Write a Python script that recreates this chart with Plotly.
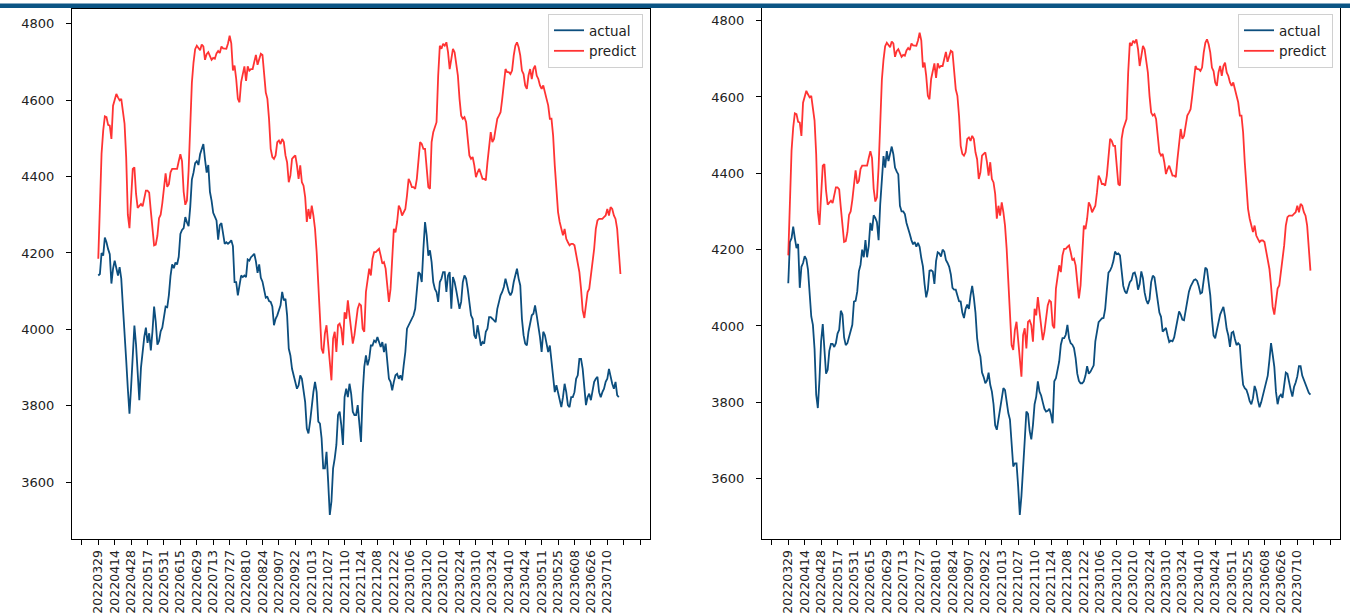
import plotly.graph_objects as go

# ---------------- data ----------------
dates = ["20220329", "20220414", "20220428", "20220517", "20220531", "20220615",
         "20220629", "20220713", "20220727", "20220810", "20220824", "20220907",
         "20220922", "20221013", "20221027", "20221110", "20221124", "20221208",
         "20221222", "20230106", "20230120", "20230210", "20230224", "20230310",
         "20230324", "20230410", "20230424", "20230511", "20230525", "20230608",
         "20230626", "20230710"]

left_actual = [
    4141, 4145, 4200, 4193, 4240, 4228, 4210, 4197, 4120, 4159,
    4180, 4163, 4141, 4163, 4133, 4060, 3975, 3920, 3845, 3780,
    3850, 3930, 4010, 3960, 3880, 3815, 3900, 3950, 3980, 4005,
    3965, 3990, 3945, 3995, 4060, 4020, 3960, 3970, 3995, 4005,
    4030, 4060, 4058, 4090, 4140, 4170, 4160, 4175, 4170, 4190,
    4250, 4260, 4265, 4294, 4280, 4270, 4320, 4392, 4410, 4435,
    4440, 4430, 4458, 4470, 4485, 4445, 4410, 4430, 4360, 4337,
    4305, 4295, 4285, 4235, 4273, 4278, 4244, 4224, 4228, 4224,
    4228, 4233, 4218, 4124, 4124, 4089, 4115, 4141, 4137, 4141,
    4137, 4183, 4180, 4189, 4193, 4198, 4178, 4148, 4170, 4135,
    4125, 4100, 4083, 4085, 4074, 4072, 4060, 4011, 4028, 4037,
    4054, 4063, 4098, 4076, 4080, 4037, 3950, 3932, 3897, 3880,
    3863, 3845, 3854, 3880, 3871, 3845, 3810, 3741, 3728, 3759,
    3802, 3836, 3863, 3836, 3759, 3754, 3715, 3637, 3637, 3680,
    3602, 3515, 3550, 3637, 3663, 3698, 3776, 3785, 3750, 3698,
    3823, 3845, 3823, 3858, 3832, 3785, 3776, 3776, 3802, 3759,
    3706, 3832, 3902, 3932, 3906, 3923, 3958, 3958, 3971, 3967,
    3980, 3967, 3954, 3967, 3941, 3963, 3915, 3871, 3863, 3841,
    3863, 3880, 3884, 3871, 3880, 3867, 3906, 3941, 4002, 4011,
    4019, 4028, 4037, 4054, 4106, 4150, 4145, 4124, 4211, 4281,
    4246, 4193, 4207, 4176, 4124, 4106, 4098, 4072, 4124, 4133,
    4150, 4150, 4098, 4141, 4150, 4054, 4137, 4124, 4102, 4072,
    4054, 4072, 4124, 4141, 4133, 4106, 4063, 4037, 4028, 3985,
    3976, 4011, 3985, 3958, 3967, 3963, 3994, 4002, 4032, 4032,
    4028, 4024, 4019, 4054, 4072, 4089, 4098, 4111, 4133, 4115,
    4098, 4089, 4098, 4124, 4141, 4159, 4133, 4115, 4028, 3985,
    3963, 3958, 3994, 4019, 4037, 4041, 4063, 4037, 4011, 3980,
    3941, 3994, 3985, 3958, 3941, 3958, 3915, 3863, 3836, 3854,
    3832, 3815, 3797, 3823, 3858, 3836, 3802, 3797, 3823, 3823,
    3836, 3871, 3880, 3923, 3923, 3897, 3836, 3802, 3823, 3832,
    3815, 3845, 3863, 3871, 3876, 3836, 3823, 3836, 3845, 3863,
    3871, 3897, 3876, 3858, 3845, 3863, 3828, 3823]

predict = [
    4185, 4300, 4460, 4520, 4557, 4555, 4535, 4533, 4498, 4585,
    4600, 4616, 4607, 4599, 4603, 4570, 4538, 4450, 4300, 4265,
    4360, 4420, 4424, 4355, 4318, 4324, 4328, 4322, 4340, 4363,
    4363, 4358, 4310, 4265, 4220, 4222, 4245, 4291, 4300, 4330,
    4370, 4408, 4373, 4380, 4411, 4420, 4420, 4420, 4420, 4440,
    4458, 4440, 4360, 4326, 4337, 4415, 4535, 4645, 4698, 4733,
    4742, 4735, 4730, 4745, 4740, 4705, 4720, 4725, 4712, 4705,
    4710, 4708, 4722, 4728, 4723, 4740, 4735, 4734, 4734, 4748,
    4768, 4748, 4677, 4690, 4655, 4603, 4594, 4647, 4664, 4688,
    4650, 4688, 4677, 4681, 4681, 4700, 4718, 4692, 4706, 4721,
    4718, 4675, 4620, 4603, 4550, 4472, 4451, 4446, 4455, 4490,
    4494, 4485, 4498, 4490, 4455, 4437, 4385, 4402, 4446, 4451,
    4455, 4429, 4394, 4429, 4385, 4376, 4346, 4281, 4315, 4289,
    4324, 4298, 4263, 4202, 4124, 4037, 3950, 3937, 3989, 4011,
    3967, 3915, 3867, 3976, 3994, 3941, 4011, 4015, 4002, 3959,
    4045, 4028, 4076, 4037, 4002, 3963, 3985, 4028, 4054, 4067,
    4063, 4002, 3994, 4098, 4124, 4159, 4141, 4185, 4202, 4202,
    4207, 4211, 4193, 4172, 4176, 4159, 4115, 4072, 4106, 4176,
    4263, 4254, 4281, 4324, 4315, 4298, 4307, 4315, 4350, 4394,
    4385, 4372, 4372, 4368, 4394, 4437, 4490, 4485, 4472, 4472,
    4420, 4372, 4368, 4490, 4516, 4533, 4542, 4664, 4742, 4734,
    4747, 4742, 4751, 4725, 4681, 4707, 4734, 4725, 4699, 4664,
    4603, 4559, 4551, 4555, 4542, 4498, 4455, 4446, 4451, 4429,
    4398, 4411, 4420, 4407, 4394, 4394, 4390, 4437, 4472, 4516,
    4490, 4498, 4525, 4551, 4559, 4568, 4603, 4638, 4681, 4673,
    4673, 4668, 4677, 4716, 4742, 4751, 4738, 4716, 4677, 4668,
    4638, 4629, 4664, 4681, 4655, 4681, 4690, 4664, 4655, 4638,
    4629, 4638, 4616, 4603, 4586, 4551, 4551, 4507, 4429, 4359,
    4307, 4281, 4263, 4246, 4263, 4237, 4228, 4220, 4224, 4224,
    4220, 4193, 4176, 4150, 4106, 4050, 4030, 4063, 4098, 4106,
    4141, 4167, 4211, 4263, 4285, 4289, 4289, 4289, 4294, 4298,
    4315, 4298, 4320, 4315, 4298, 4289, 4263, 4211, 4145]

right_actual = [
    4112, 4220, 4230, 4260, 4230, 4204, 4215, 4100, 4155, 4165,
    4183, 4175, 4148, 4090, 4025, 4003, 3940, 3820, 3785, 3860,
    3960, 4005, 3950, 3875, 3885, 3935, 3953, 3953, 3945, 3955,
    3980, 3990, 4040, 4030, 3970, 3950, 3955, 3973, 3986, 4003,
    4064, 4066, 4090, 4143, 4160, 4200, 4180, 4225, 4180, 4210,
    4270, 4250, 4290, 4283, 4272, 4225, 4320, 4380, 4445, 4415,
    4458, 4432, 4449, 4470, 4450, 4415, 4405, 4397, 4315, 4300,
    4300, 4293, 4270, 4258, 4241, 4225, 4214, 4220, 4208, 4218,
    4207, 4178, 4156, 4110, 4075, 4095, 4145, 4146, 4143, 4110,
    4170, 4193, 4190, 4182, 4200, 4195, 4173, 4165, 4155, 4135,
    4100, 4095, 4095, 4080, 4065, 4064, 4035, 4021, 4045, 4056,
    4045, 4080, 4105, 4075, 4035, 3968, 3935, 3920, 3878, 3866,
    3850, 3857, 3878, 3846, 3828, 3795, 3740, 3728, 3755, 3773,
    3805, 3837, 3832, 3800, 3772, 3755, 3690, 3632, 3640, 3640,
    3580, 3505, 3555, 3645, 3700, 3776, 3770, 3725, 3703, 3740,
    3795, 3815, 3855, 3828, 3818, 3800, 3783, 3776, 3778, 3783,
    3768, 3745, 3855, 3863, 3890, 3907, 3951, 3968, 3968, 3977,
    4003, 3968, 3955, 3951, 3942, 3916, 3875, 3856, 3850, 3850,
    3855, 3870, 3895, 3875, 3880, 3890, 3897, 3960, 3990, 4010,
    4015, 4020, 4021, 4045, 4095, 4140, 4145, 4155, 4170, 4195,
    4188, 4190, 4185, 4145, 4105, 4091, 4085, 4100, 4115, 4120,
    4138, 4140, 4125, 4095, 4110, 4143, 4125, 4088, 4068, 4058,
    4070, 4115, 4132, 4127, 4095, 4055, 4035, 4024, 3985, 3990,
    3995, 3975, 3958, 3962, 3960, 3970, 3995, 4020, 4038, 4030,
    4017, 4015, 4040, 4072, 4090, 4103, 4112, 4120, 4122, 4118,
    4104, 4085, 4088, 4130, 4153, 4148, 4115, 4080, 4020, 3975,
    3968, 3990, 4015, 4030, 4040, 4050, 4025, 3992, 3975, 3945,
    3982, 3985, 3966, 3950, 3955, 3950, 3890, 3846, 3837, 3833,
    3820, 3803, 3795, 3811, 3843, 3830, 3805, 3787, 3800, 3818,
    3828, 3852, 3870, 3910, 3955, 3925, 3893, 3828, 3795, 3815,
    3820, 3812, 3843, 3878, 3875, 3850, 3832, 3815, 3840, 3852,
    3868, 3895, 3895, 3870, 3858, 3850, 3835, 3825, 3820]

y_ticks = [3600, 3800, 4000, 4200, 4400, 4600, 4800]

# ---------------- figure ----------------
W, H = 1350, 615
BLUE = "#0c4e7e"
RED = "rgba(255,0,0,0.8)"
FONT = "DejaVu Sans"

tick_step = 10
tickvals = list(range(-tick_step, (len(dates) + 2) * tick_step, tick_step))
ticktext = [""] + dates + ["", ""]

fig = go.Figure()
panels = [("x", "y", "legend", left_actual, predict),
          ("x2", "y2", "legend2", right_actual, predict)]
for xa, ya, lg, act, pred in panels:
    fig.add_trace(go.Scatter(x=list(range(len(act))), y=act, mode="lines",
                             name="actual", line=dict(color=BLUE, width=1.8),
                             xaxis=xa, yaxis=ya, legend=lg))
    fig.add_trace(go.Scatter(x=list(range(len(pred))), y=pred, mode="lines",
                             name="predict", line=dict(color=RED, width=1.8),
                             xaxis=xa, yaxis=ya, legend=lg))

def xaxis(domain, anchor):
    return dict(domain=domain, anchor=anchor, range=[-16, 336],
                tickmode="array", tickvals=tickvals, ticktext=ticktext,
                tickangle=-90, ticks="outside", ticklen=5, tickcolor="#000",
                showline=True, linecolor="#000", linewidth=1, mirror=True,
                showgrid=False, zeroline=False, automargin=False,
                tickfont=dict(family=FONT, size=12.5, color="#222"))

def yaxis(domain, anchor, rng):
    return dict(domain=domain, anchor=anchor, range=rng,
                tickmode="array", tickvals=y_ticks,
                ticks="outside", ticklen=5, tickcolor="#000",
                showline=True, linecolor="#000", linewidth=1, mirror=True,
                showgrid=False, zeroline=False, automargin=False,
                ticklabelstandoff=9,
                tickfont=dict(family=FONT, size=13, color="#222"))

def legend(xr, yt):
    return dict(x=xr, y=yt, xanchor="right", yanchor="top",
                bgcolor="rgba(255,255,255,0.8)", bordercolor="#d0d0d0",
                borderwidth=1, itemwidth=30,
                font=dict(family=FONT, size=13.5, color="#222"))

fig.update_layout(
    width=W, height=H, autosize=False,
    margin=dict(l=0, r=0, t=0, b=0),
    paper_bgcolor="white", plot_bgcolor="white",
    font=dict(family=FONT, size=13, color="#222"),
    xaxis=xaxis([72 / W, 650 / W], "y"),
    yaxis=yaxis([1 - 539 / H, 1 - 9 / H], "x", [3452, 4838]),
    xaxis2=xaxis([762 / W, 1340 / W], "y2"),
    yaxis2=yaxis([1 - 539 / H, 1 - 8 / H], "x2", [3442, 4833]),
    legend=legend(643 / W, 1 - 14 / H),
    legend2=legend(1333 / W, 1 - 14 / H),
    shapes=[dict(type="rect", xref="paper", yref="paper",
                 x0=0, x1=1, y0=1 - 8 / H, y1=1 - 3.5 / H,
                 fillcolor="#0b5585", line=dict(width=0), layer="above")],
)

fig.write_html("out.html",
               config={"displayModeBar": False},
               post_script="document.body.style.margin='0px';"
                           "document.body.style.overflow='hidden';")
